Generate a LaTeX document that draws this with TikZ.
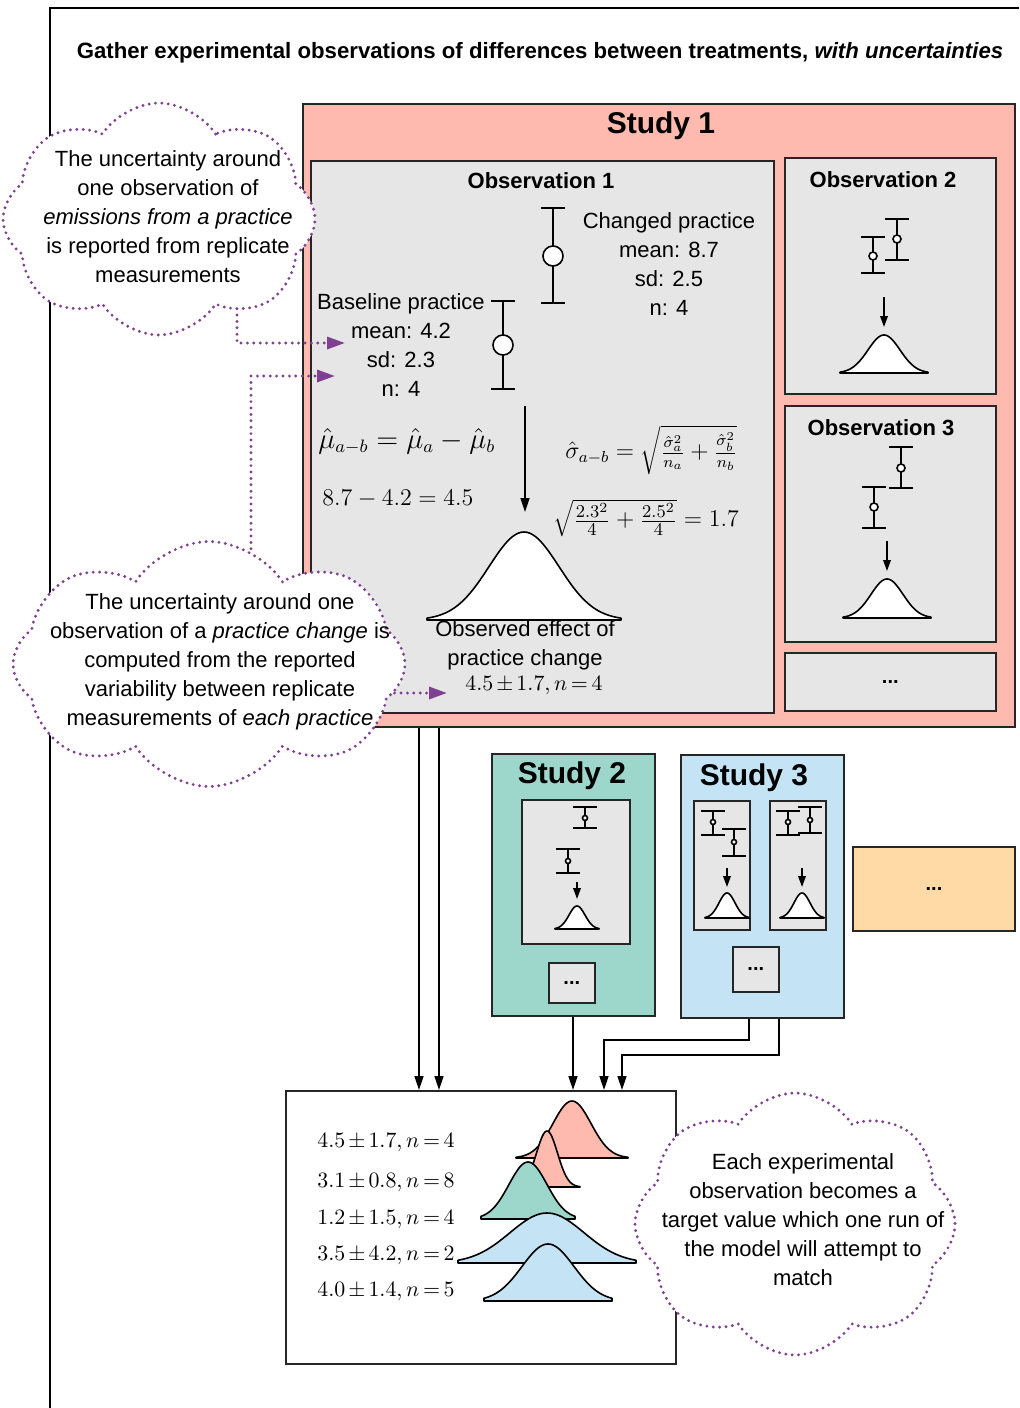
\documentclass[tikz,border=0pt]{standalone}
\usepackage{fontspec}
\setmainfont{Liberation Serif}
\setsansfont{Liberation Sans}
\renewcommand{\familydefault}{\sfdefault}
\usetikzlibrary{positioning, arrows.meta, shapes.symbols}

\definecolor{studyred}{RGB}{255,186,176}
\definecolor{studygreen}{RGB}{157,214,202}
\definecolor{studyblue}{RGB}{196,228,246}
\definecolor{studyorange}{RGB}{255,217,166}
\definecolor{obsgray}{RGB}{230,230,230}
\definecolor{notepurple}{RGB}{128,64,145}

\pgfdeclarelayer{notes}
\pgfsetlayers{main,notes}

\tikzstyle{studybox} = [rectangle, draw=black!85, line width=1pt, anchor=north west, inner sep=0pt]
\tikzstyle{obsbox} = [rectangle, draw=black!85, line width=0.8pt, fill=obsgray, anchor=north west, inner sep=0pt]
\tikzstyle{boxtitle} = [font=\fontsize{11}{13}\selectfont\bfseries]
\tikzstyle{studytitle} = [font=\fontsize{15}{18}\selectfont\bfseries]
\tikzstyle{stat} = [align=center, font=\fontsize{11}{14.5}\selectfont]
\tikzstyle{formula} = [anchor=west, inner sep=0pt]
\tikzstyle{target} = [font=\fontsize{10.8}{13}\selectfont, execute at begin node={\medmuskip=2.5mu\thickmuskip=3mu}]
\tikzstyle{arrow} = [line width=0.8pt, -{Triangle[length=7pt, width=4.5pt]}]
\tikzstyle{smallarrow} = [line width=0.8pt, -{Triangle[length=5.5pt, width=3.8pt]}]
\tikzstyle{notecloud} = [cloud, cloud puffs=8, cloud puff arc=115, cloud ignores aspect, draw=notepurple, fill=white, line width=1.6pt, dash pattern=on 0pt off 3.2pt, line cap=round, inner sep=0pt]
\tikzstyle{notetext} = [align=center, font=\fontsize{11}{14.5}\selectfont]
\tikzstyle{notelink} = [draw=notepurple, line width=1.6pt, dash pattern=on 0pt off 3.2pt, line cap=round, -{Triangle[length=9pt, width=6pt, fill=notepurple]}]

% centre, baseline, height, sigma, half span, fill
\newcommand{\bellcurve}[6]{%
  \draw[fill=#6, line width=0.8pt, line join=round]
    ({#1-#5},#2) -- plot[variable=\t, domain=-1:1, samples=71] ({#1+\t*#5}, {#2-#3*exp(-0.5*(\t*#5/#4)^2)}) -- ({#1+#5},#2) -- cycle;
}
% x, top, bottom, mean, cap half width, radius
\newcommand{\errbar}[6]{%
  \draw[line width=0.8pt] ({#1-#5},#2) -- ({#1+#5},#2) (#1,#2) -- (#1,#3) ({#1-#5},#3) -- ({#1+#5},#3);
  \draw[line width=0.8pt, fill=white] (#1,#4) circle[radius=#6];
}

\begin{document}
\begin{tikzpicture}[x=0.5pt, y=-0.5pt]
  \useasboundingbox (0,0) rectangle (1019,1408);

  % Outer frame
  \draw[line width=1pt] (50,1408) -- (50,8) -- (1019,8);
  \node (title) [font=\fontsize{11.1}{13}\selectfont\bfseries] at (540,53) {Gather experimental observations of differences between treatments, \textit{with uncertainties}};

  % Study 1
  \node (study1) [studybox, fill=studyred, minimum width=356pt, minimum height=311.5pt] at (302,103) {};
  \node (study1_title) [studytitle] at (661,126) {Study 1};

  % Observation 1 (worked example)
  \node (obs1) [obsbox, minimum width=231.5pt, minimum height=276pt] at (310,160) {};
  \node (obs1_title) [boxtitle] at (541,181) {Observation 1};
  \errbar{553}{208}{303}{256}{12}{10}
  \errbar{503}{301}{389}{345}{12}{10}
  \node (changed) [stat] at (669,264) {Changed practice\\mean: 8.7\\sd: 2.5\\n: 4};
  \node (baseline) [stat] at (401,345) {Baseline practice\\mean: 4.2\\sd: 2.3\\n: 4};
  \node (mu_eq) [formula, font=\fontsize{13.3}{16}\selectfont] at (318,441) {$\hat{\mu}_{a-b} = \hat{\mu}_a - \hat{\mu}_b$};
  \node (mu_val) [formula, font=\fontsize{12.5}{15}\selectfont] at (322,499) {$8.7 - 4.2 = 4.5$};
  \node (sd_eq) [formula, font=\fontsize{12}{14}\selectfont] at (565,450) {$\hat{\sigma}_{a-b} = \sqrt{\frac{\hat{\sigma}_a^2}{n_a} + \frac{\hat{\sigma}_b^2}{n_b}}$};
  \node (sd_val) [formula, font=\fontsize{13.2}{16}\selectfont] at (553,518) {$\sqrt{\frac{2.3^2}{4} + \frac{2.5^2}{4}} = 1.7$};
  \coordinate (obs1_from) at (525,406);
  \coordinate (obs1_to) at (525,512);
  \draw[arrow] (obs1_from) -- (obs1_to);
  \bellcurve{524}{620}{88}{35}{97}{white}
  \node (effect) [stat] at (525,645) {Observed effect of\\practice change};
  \node (effect_val) [target] at (534,686) {$4.5 \pm 1.7, n = 4$};

  % Observations 2 and 3
  \node (obs2) [obsbox, minimum width=105.5pt, minimum height=118pt] at (784,157) {};
  \node (obs2_title) [boxtitle] at (883,180) {Observation 2};
  \errbar{873}{237}{273}{256}{12}{4}
  \errbar{897}{219}{260}{239}{12}{4}
  \coordinate (obs2_from) at (884,297);
  \coordinate (obs2_to) at (884,327);
  \draw[smallarrow] (obs2_from) -- (obs2_to);
  \bellcurve{884}{373}{38}{16}{44}{white}

  \node (obs3) [obsbox, minimum width=105.5pt, minimum height=118pt] at (784,405) {};
  \node (obs3_title) [boxtitle] at (881,428) {Observation 3};
  \errbar{901}{447}{488}{468}{12}{4}
  \errbar{874}{487}{528}{507}{12}{4}
  \coordinate (obs3_from) at (887,541);
  \coordinate (obs3_to) at (887,571);
  \draw[smallarrow] (obs3_from) -- (obs3_to);
  \bellcurve{887}{618}{39}{16}{44}{white}

  \node (obs_more) [obsbox, minimum width=105.5pt, minimum height=29pt] at (784,652) {};
  \node [font=\bfseries] at (obs_more.center) {...};

  % Study 2
  \node (study2) [studybox, fill=studygreen, minimum width=81.5pt, minimum height=131pt] at (491,753) {};
  \node (study2_title) [studytitle] at (572,776) {Study 2};
  \node (s2_obs) [obsbox, minimum width=54pt, minimum height=72pt] at (521,799) {};
  \errbar{585}{807}{828}{818}{12}{2.5}
  \errbar{568}{849}{873}{861}{12}{2.5}
  \coordinate (s2_from) at (577,882);
  \coordinate (s2_to) at (577,899);
  \draw[smallarrow] (s2_from) -- (s2_to);
  \bellcurve{577}{929}{23}{8}{22}{white}
  \node (s2_more) [obsbox, minimum width=23pt, minimum height=20pt] at (548,962) {};
  \node [font=\bfseries] at (s2_more.center) {...};

  % Study 3
  \node (study3) [studybox, fill=studyblue, minimum width=81.5pt, minimum height=131.5pt] at (680,754) {};
  \node (study3_title) [studytitle] at (754,778) {Study 3};
  \node (s3_obsA) [obsbox, minimum width=28pt, minimum height=64.5pt] at (693,800) {};
  \node (s3_obsB) [obsbox, minimum width=28pt, minimum height=64.5pt] at (769,800) {};
  \errbar{713}{811}{835}{822}{12}{2.5}
  \errbar{734}{829}{856}{842}{12}{2.5}
  \errbar{788}{811}{835}{822}{12}{2.5}
  \errbar{810}{807}{833}{820}{12}{2.5}
  \coordinate (s3A_from) at (727,868);
  \coordinate (s3A_to) at (727,887);
  \coordinate (s3B_from) at (802,868);
  \coordinate (s3B_to) at (802,887);
  \draw[smallarrow] (s3A_from) -- (s3A_to);
  \draw[smallarrow] (s3B_from) -- (s3B_to);
  \bellcurve{727}{918}{25}{8}{22}{white}
  \bellcurve{802}{918}{25}{8}{22}{white}
  \node (s3_more) [obsbox, minimum width=23pt, minimum height=22.5pt] at (732,946) {};
  \node [font=\bfseries] at (s3_more.center) {...};

  % Further studies
  \node (study_more) [studybox, fill=studyorange, minimum width=81pt, minimum height=42pt] at (852,846) {};
  \node [font=\bfseries] at (study_more.center) {...};

  % Targets
  \node (targets) [studybox, fill=white, minimum width=195pt, minimum height=136.5pt] at (285,1090) {};
  \bellcurve{572}{1158}{57}{19}{56}{studyred}
  \bellcurve{547}{1187}{56}{10.5}{33}{studyred}
  \bellcurve{528}{1219}{57}{19}{47}{studygreen}
  \bellcurve{547}{1263}{50}{37}{89}{studyblue}
  \bellcurve{548}{1301}{57}{26}{64}{studyblue}
  \node (t1) [formula, target] at (317,1143) {$4.5 \pm 1.7, n = 4$};
  \node (t2) [formula, target] at (317,1183) {$3.1 \pm 0.8, n = 8$};
  \node (t3) [formula, target] at (317,1220) {$1.2 \pm 1.5, n = 4$};
  \node (t4) [formula, target] at (317,1256) {$3.5 \pm 4.2, n = 2$};
  \node (t5) [formula, target] at (317,1292) {$4.0 \pm 1.4, n = 5$};

  % Arrows - studies to targets
  \draw[arrow] (419,0 |- study1.south) -- (419,0 |- targets.north);
  \draw[arrow] (439,0 |- study1.south) -- (439,0 |- targets.north);
  \draw[arrow] (573,0 |- study2.south) -- (573,0 |- targets.north);
  \draw[arrow] (749,0 |- study3.south) -- ++(0,21) -| (604,0 |- targets.north);
  \draw[arrow] (779,0 |- study3.south) -- ++(0,36) -| (622,0 |- targets.north);

  % Notes (clouds sit on top of everything)
  \begin{pgfonlayer}{notes}
    \node (note1) [notecloud, minimum width=156pt, minimum height=116pt] at (159,219) {};
    \node (note2) [notecloud, minimum width=196pt, minimum height=122.5pt] at (209,664) {};
    \node (note3) [notecloud, minimum width=160pt, minimum height=131pt] at (795,1224) {};
    \node (note1_text) [notetext] at (168,217) {The uncertainty around\\one observation of\\\textit{emissions from a practice}\\is reported from replicate\\measurements};
    \node (note2_text) [notetext] at (220,662) {The uncertainty around one\\observation of a \textit{practice change} is\\computed from the reported\\variability between replicate\\measurements of \textit{each practice}};
    \node (note3_text) [notetext] at (803,1220) {Each experimental\\observation becomes a\\target value which one run of\\the model will attempt to\\match};
  \end{pgfonlayer}

  % Note links
  \coordinate (baseline_mean) at (345,343);
  \coordinate (baseline_sd) at (335,376);
  \coordinate (effect_in) at (447,693);
  \draw[notelink] (237,0 |- note1.center) -- (237,0 |- baseline_mean) -- (baseline_mean);
  \draw[notelink] (251,0 |- note2.center) -- (251,0 |- baseline_sd) -- (baseline_sd);
  \draw[notelink] (note2.center |- effect_in) -- (effect_in);

\end{tikzpicture}
\end{document}
